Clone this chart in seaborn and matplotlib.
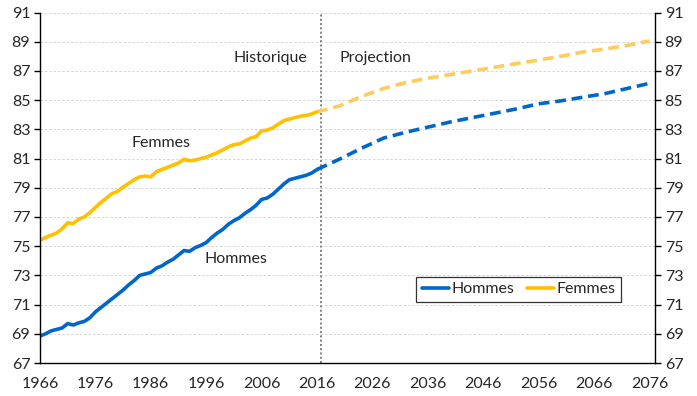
import numpy as np
import pandas as pd
import matplotlib
matplotlib.use("Agg")
import matplotlib.pyplot as plt
from matplotlib.ticker import MultipleLocator
import seaborn as sns

# ========== Data / 数据 ==========
years_hist = list(range(1966, 2017))
hommes_hist = [68.85, 69.0, 69.2, 69.3, 69.4, 69.7, 69.6, 69.75, 69.85, 70.1,
               70.5, 70.8, 71.1, 71.4, 71.7, 72.0, 72.35, 72.65, 73.0, 73.1,
               73.2, 73.5, 73.65, 73.9, 74.1, 74.4, 74.7, 74.65, 74.9, 75.05,
               75.25, 75.6, 75.9, 76.15, 76.5, 76.75, 76.95, 77.25, 77.5, 77.8,
               78.2, 78.3, 78.55, 78.9, 79.25, 79.55, 79.65, 79.75, 79.85, 80.0,
               80.25]
femmes_hist = [75.4, 75.6, 75.75, 75.9, 76.2, 76.6, 76.55, 76.85, 77.0, 77.3,
               77.65, 78.0, 78.3, 78.6, 78.75, 79.05, 79.3, 79.55, 79.75, 79.8,
               79.75, 80.1, 80.25, 80.4, 80.55, 80.7, 80.95, 80.85, 80.9, 81.0,
               81.1, 81.25, 81.4, 81.6, 81.8, 81.95, 82.0, 82.2, 82.4, 82.5,
               82.9, 82.95, 83.1, 83.35, 83.6, 83.7, 83.8, 83.9, 83.95, 84.05,
               84.2]

years_proj = [2016, 2020, 2024, 2028, 2032, 2036, 2040, 2044,
              2048, 2052, 2056, 2060, 2064, 2068, 2072, 2076]
hommes_proj = [80.25, 80.95, 81.7, 82.4, 82.8, 83.15, 83.5, 83.8,
               84.1, 84.4, 84.75, 84.95, 85.2, 85.45, 85.8, 86.15]
femmes_proj = [84.2, 84.6, 85.25, 85.8, 86.2, 86.5, 86.75, 87.0,
               87.25, 87.5, 87.75, 88.0, 88.3, 88.5, 88.75, 89.05]

x_labels = list(range(1966, 2077, 10))
y_ticks = list(range(67, 92, 2))

BLUE = "#0066CC"
GOLD = "#FFC000"
GOLD_LIGHT = "#FFCB5C"

# ========== Plot / 绘图 ==========
sns.set_style("white")
plt.rcParams["font.family"] = ["Lato", "DejaVu Sans"]
FS = 11.5

hist = pd.DataFrame({"annee": years_hist, "Hommes": hommes_hist, "Femmes": femmes_hist})
proj = pd.DataFrame({"annee": years_proj, "Hommes": hommes_proj, "Femmes": femmes_proj})

fig = plt.figure(figsize=(6.97, 3.96), dpi=100)
ax = fig.add_axes([0.0574, 0.0833, 0.8823, 0.8851])

sns.lineplot(data=proj, x="annee", y="Hommes", ax=ax, color=BLUE, lw=2.6,
             linestyle=(0, (3, 1.6)))
sns.lineplot(data=proj, x="annee", y="Femmes", ax=ax, color=GOLD_LIGHT, lw=2.6,
             linestyle=(0, (3, 1.6)))
sns.lineplot(data=hist, x="annee", y="Hommes", ax=ax, color=BLUE, lw=2.6, label="Hommes")
sns.lineplot(data=hist, x="annee", y="Femmes", ax=ax, color=GOLD, lw=2.6, label="Femmes")

ax.axvline(2016.8, color="#7F7F7F", lw=1.4, ls=(0, (1, 1.2)), zorder=1)

ax.set_xlim(1966, 2077)
ax.set_ylim(67, 91)
ax.set_xticks(x_labels)
ax.xaxis.set_minor_locator(MultipleLocator(5))
ax.set_yticks(y_ticks)
ax.yaxis.grid(True, color="#D5D5D5", ls=(0, (2.5, 2)), lw=0.7)
ax.set_axisbelow(True)

for side in ["left", "right", "bottom"]:
    ax.spines[side].set_color("black")
    ax.spines[side].set_linewidth(1.0)
ax.spines["top"].set_visible(False)

ax.tick_params(axis="both", which="both", direction="out", length=4, width=1,
               color="black", labelsize=FS, pad=3)
ax.tick_params(axis="y", right=True, labelright=True, left=True, labelleft=True)
ax.tick_params(axis="x", pad=6)
ax.set_xlabel("")
ax.set_ylabel("")

ax.text(2014.2, 87.9, "Historique", ha="right", va="center", fontsize=FS)
ax.text(2020.1, 87.9, "Projection", ha="left", va="center", fontsize=FS)
ax.text(1987.8, 82.05, "Femmes", ha="center", va="center", fontsize=FS)
ax.text(2001.3, 74.15, "Hommes", ha="center", va="center", fontsize=FS)

leg = ax.legend(loc="center right", bbox_to_anchor=(0.958, 0.21), ncol=2,
                frameon=True, fancybox=False, fontsize=FS, handlelength=1.7,
                handletextpad=0.15, columnspacing=0.8, borderpad=0.35)
leg.get_frame().set_edgecolor("black")
leg.get_frame().set_linewidth(0.9)

fig.savefig("out.png", dpi=100)
